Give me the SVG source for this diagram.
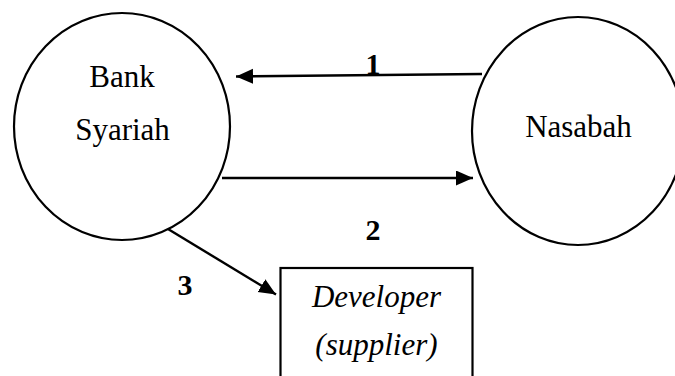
<svg xmlns="http://www.w3.org/2000/svg" width="675" height="376" viewBox="0 0 675 376">
  <style>
    .shape { fill: #ffffff; stroke: #000000; stroke-width: 2.2; }
    .label { font-family: "Liberation Serif", "Times New Roman", serif; font-size: 31px; fill: #000000; text-anchor: middle; }
    .italic { font-style: italic; }
    .num { font-family: "Liberation Serif", "Times New Roman", serif; font-size: 30px; font-weight: bold; fill: #000000; text-anchor: middle; }
    .link { fill: none; stroke: #000000; stroke-width: 2.4; }
  </style>
  <defs>
    <marker id="arrow" markerUnits="userSpaceOnUse" markerWidth="18" markerHeight="16" refX="17" refY="7.5" orient="auto">
      <path d="M0,0 L17,7.5 L0,15 Z" fill="#000000"/>
    </marker>
  </defs>
  <rect width="675" height="376" fill="#ffffff"/>

  <g id="bank-syariah">
    <ellipse class="shape" cx="122" cy="126.5" rx="108" ry="113.5"/>
    <text class="label" x="122" y="87">Bank</text>
    <text class="label" x="122.5" y="140">Syariah</text>
  </g>

  <g id="nasabah">
    <ellipse class="shape" cx="578" cy="131" rx="106" ry="114"/>
    <text class="label" x="578.5" y="137">Nasabah</text>
  </g>

  <g id="developer">
    <rect class="shape" x="280.5" y="268" width="192" height="120"/>
    <text class="label italic" x="376.5" y="307">Developer</text>
    <text class="label italic" x="376.5" y="355">(supplier)</text>
  </g>

  <g id="connectors">
    <line class="link" x1="482" y1="74" x2="236" y2="76.5" marker-end="url(#arrow)"/>
    <line class="link" x1="222" y1="178" x2="473" y2="178" marker-end="url(#arrow)"/>
    <line class="link" x1="168" y1="229" x2="276" y2="294.5" marker-end="url(#arrow)"/>
    <text class="num" x="373" y="74">1</text>
    <text class="num" x="373" y="240">2</text>
    <text class="num" x="185" y="295">3</text>
  </g>
</svg>
